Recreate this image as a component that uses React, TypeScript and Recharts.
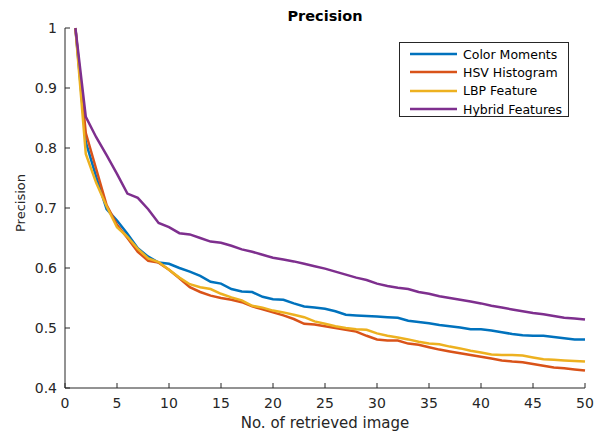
import { Line, LineChart, XAxis, YAxis } from "recharts";

const retrieved = Array.from({ length: 50 }, (_, i) => i + 1);

const colorMoments = [
  1.0, 0.81, 0.752, 0.698, 0.679, 0.657, 0.633, 0.619, 0.609, 0.607,
  0.6, 0.594, 0.587, 0.577, 0.574, 0.565, 0.561, 0.56, 0.552, 0.548,
  0.547, 0.541, 0.536, 0.534, 0.532, 0.528, 0.522, 0.521, 0.52, 0.519,
  0.518, 0.517, 0.512, 0.51, 0.508, 0.505, 0.503, 0.501, 0.498, 0.498,
  0.496, 0.493, 0.49, 0.488, 0.487, 0.487, 0.485, 0.483, 0.481, 0.481,
];

const hsvHistogram = [
  1.0, 0.825, 0.765, 0.705, 0.672, 0.65, 0.627, 0.612, 0.609, 0.597,
  0.583, 0.568, 0.56, 0.554, 0.55, 0.547, 0.543, 0.536, 0.531, 0.526,
  0.521, 0.515, 0.507, 0.506, 0.503, 0.5, 0.497, 0.494, 0.487, 0.481,
  0.479, 0.479, 0.474, 0.472, 0.468, 0.464, 0.461, 0.458, 0.455, 0.452,
  0.449, 0.446, 0.444, 0.443, 0.44, 0.437, 0.434, 0.433, 0.431, 0.429,
];

const lbpFeature = [
  1.0, 0.79, 0.742, 0.703, 0.668, 0.652, 0.632, 0.616, 0.61, 0.597,
  0.584, 0.573, 0.568, 0.565, 0.557, 0.551, 0.546, 0.537, 0.534, 0.529,
  0.526, 0.522, 0.518, 0.511, 0.507, 0.503, 0.5, 0.498, 0.497, 0.491,
  0.487, 0.484, 0.481, 0.477, 0.474, 0.473, 0.469, 0.466, 0.462, 0.459,
  0.456, 0.455, 0.455, 0.454, 0.451, 0.448, 0.447, 0.446, 0.445, 0.444,
];

const hybridFeatures = [
  1.0, 0.852, 0.818, 0.788, 0.757, 0.724, 0.717, 0.698, 0.675, 0.668,
  0.658, 0.656, 0.65, 0.644, 0.642, 0.637, 0.631, 0.627, 0.622, 0.617,
  0.614, 0.611, 0.607, 0.603, 0.599, 0.594, 0.589, 0.584, 0.58, 0.574,
  0.57, 0.567, 0.565, 0.56, 0.557, 0.553, 0.55, 0.547, 0.544, 0.541,
  0.537, 0.534, 0.531, 0.528, 0.525, 0.523, 0.52, 0.517, 0.516, 0.514,
];

const xTicks = [0, 5, 10, 15, 20, 25, 30, 35, 40, 45, 50];
const yTicks = [0.4, 0.5, 0.6, 0.7, 0.8, 0.9, 1];

const series = [
  { key: "colorMoments", name: "Color Moments", color: "#0072BD" },
  { key: "hsvHistogram", name: "HSV Histogram", color: "#D95319" },
  { key: "lbpFeature", name: "LBP Feature", color: "#EDB120" },
  { key: "hybridFeatures", name: "Hybrid Features", color: "#7E2F8E" },
];

const chartData = retrieved.map((x, i) => ({
  x,
  colorMoments: colorMoments[i],
  hsvHistogram: hsvHistogram[i],
  lbpFeature: lbpFeature[i],
  hybridFeatures: hybridFeatures[i],
}));

const FONT = "'DejaVu Sans', sans-serif";
const AXIS = "#262626";

function LegendBox() {
  return (
    <div
      style={{
        position: "absolute",
        left: 399,
        top: 42,
        border: `1px solid ${AXIS}`,
        background: "#fff",
        width: 170,
        height: 75,
        boxSizing: "border-box",
        paddingTop: 2,
        fontFamily: FONT,
        fontSize: 12.5,
        color: "#000",
      }}
    >
      {series.map((s) => (
        <div
          key={s.key}
          style={{ display: "flex", alignItems: "center", height: 18.3 }}
        >
          <svg width={63} height={10}>
            <line x1={10} x2={57} y1={5} y2={5} stroke={s.color} strokeWidth={2.5} />
          </svg>
          <span>{s.name}</span>
        </div>
      ))}
    </div>
  );
}

export default function App() {
  return (
    <div
      style={{
        position: "absolute",
        left: 0,
        top: 0,
        width: 601,
        height: 437,
        background: "#fff",
        overflow: "hidden",
      }}
    >
      <LineChart
        width={601}
        height={437}
        data={chartData}
        margin={{ top: 28, right: 16, bottom: 0, left: 0 }}
      >
        <XAxis
          dataKey="x"
          type="number"
          domain={[0, 50]}
          ticks={xTicks}
          height={49}
          stroke={AXIS}
          tickSize={-5}
          tickMargin={15}
          tick={{ fill: AXIS, fontSize: 14, fontFamily: FONT }}
        />
        <YAxis
          type="number"
          domain={[0.4, 1]}
          ticks={yTicks}
          width={65}
          stroke={AXIS}
          tickSize={-5}
          tickMargin={13}
          tickFormatter={(v) => String(Number(v.toFixed(1)))}
          tick={{ fill: AXIS, fontSize: 14, fontFamily: FONT }}
        />
        {series.map((s) => (
          <Line
            key={s.key}
            type="linear"
            dataKey={s.key}
            name={s.name}
            stroke={s.color}
            strokeWidth={2.5}
            dot={false}
            isAnimationActive={false}
          />
        ))}
      </LineChart>

      <LegendBox />

      <div
        style={{
          position: "absolute",
          left: 225,
          width: 200,
          top: 9,
          textAlign: "center",
          fontFamily: FONT,
          fontWeight: "bold",
          fontSize: 14.5,
          lineHeight: 1,
          color: "#000",
        }}
      >
        Precision
      </div>

      <div
        style={{
          position: "absolute",
          left: 225,
          width: 200,
          top: 416,
          textAlign: "center",
          fontFamily: FONT,
          fontSize: 15,
          lineHeight: 1,
          color: AXIS,
        }}
      >
        No. of retrieved image
      </div>

      <div
        style={{
          position: "absolute",
          left: 20,
          top: 203,
          transform: "translate(-50%, -50%) rotate(-90deg)",
          fontFamily: FONT,
          fontSize: 13,
          lineHeight: 1,
          color: AXIS,
          whiteSpace: "nowrap",
        }}
      >
        Precision
      </div>
    </div>
  );
}
